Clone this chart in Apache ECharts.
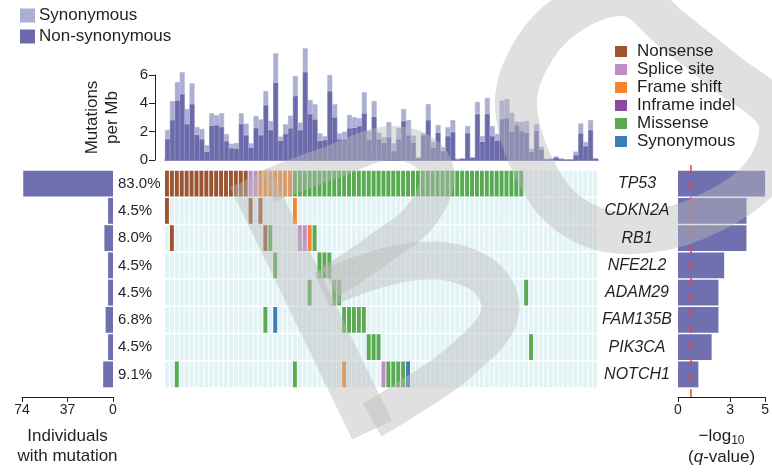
<!DOCTYPE html>
<html>
<head>
<meta charset="utf-8">
<script src="https://cdn.jsdelivr.net/npm/echarts@6/dist/echarts.min.js"></script>
<style>
  html, body { margin: 0; padding: 0; background: #ffffff; }
  #chart { width: 772px; height: 472px; }
</style>
</head>
<body>
<div id="chart"></div>
<script>
// Genes shown in the mutation matrix, top to bottom
const genes = ['TP53', 'CDKN2A', 'RB1', 'NFE2L2', 'ADAM29', 'FAM135B', 'PIK3CA', 'NOTCH1'];

// Mutation rate per sample (mutations per Mb)
const nonSynPerMb = [
  1.48, 2.82, 4.20, 4.66, 2.54, 3.95, 1.78, 1.48, 0.59, 2.43,
  2.47, 2.33, 1.34, 0.85, 0.80, 2.54, 1.76, 0.87, 2.27, 1.76,
  3.88, 2.12, 5.46, 1.36, 1.84, 2.24, 4.52, 2.12, 6.21, 3.25,
  2.87, 1.36, 1.41, 4.87, 3.01, 1.46, 1.46, 2.24, 2.28, 2.40,
  3.29, 1.46, 3.06, 1.48, 1.22, 1.62, 0.64, 1.48, 2.75, 1.76,
  1.22, 0.14, 1.76, 2.82, 0.87, 1.93, 0.64, 1.69, 1.98, 0.05,
  0.09, 1.91, 0.16, 3.25, 1.29, 3.25, 1.69, 1.36, 2.89, 2.96,
  2.00, 2.47, 2.05, 1.93, 0.59, 2.07, 0.75, 0.05, 0.07, 0.19,
  0.07, 0.02, 0.02, 0.35, 1.88, 0.99, 2.12, 0.09
];
const synPerMb = [
  0.64, 1.34, 1.30, 1.54, 1.06, 1.45, 0.55, 0.71, 0.45, 0.87,
  0.70, 0.97, 0.49, 0.30, 0.40, 0.76, 0.80, 0.30, 0.83, 1.11,
  0.99, 0.63, 2.07, 0.29, 0.68, 0.89, 1.41, 0.52, 1.67, 0.99,
  1.06, 0.52, 0.28, 1.13, 0.92, 0.42, 0.54, 0.94, 0.73, 0.54,
  1.49, 0.61, 1.10, 0.45, 0.38, 1.06, 0.54, 0.80, 0.85, 1.06,
  0.50, 0.05, 0.12, 1.13, 0.42, 0.54, 0.25, 0.62, 0.84, 0.02,
  0.03, 0.49, 0.03, 0.84, 0.40, 1.13, 0.71, 0.48, 1.30, 1.35,
  1.34, 0.24, 0.63, 0.82, 0.19, 0.47, 0.19, 0.02, 0.05, 0.05,
  0.02, 0.03, 0.03, 0.24, 0.71, 0.28, 0.70, 0.05
];

// One character per sample (blocks of ten):
// N nonsense, S splice site, F frame shift, I inframe indel, M missense, Y synonymous, . none
const mutationRows = {
  TP53:    ['NNNNNNNNNN', 'NNNNNNNSSF', 'FFFFFFMMMM', 'MMMMMMMMMM', 'MMMMMMMMMM', 'MMMMMMMMMM', 'MMMMMMMMMM', 'MMM.......', '........'].join(''),
  CDKN2A:  ['N.........', '.......N.N', '......F...', '..........', '..........', '..........', '..........', '..........', '........'].join(''),
  RB1:     ['.N........', '..........', 'NM.....SSF', 'M.........', '..........', '..........', '..........', '..........', '........'].join(''),
  NFE2L2:  ['..........', '..........', '..M.......', '.MMM......', '..........', '..........', '..........', '..........', '........'].join(''),
  ADAM29:  ['..........', '..........', '.........M', '....MM....', '..........', '..........', '..........', '...M......', '........'].join(''),
  FAM135B: ['..........', '..........', 'M.Y.......', '......MMMM', 'M.........', '..........', '..........', '..........', '........'].join(''),
  PIK3CA:  ['..........', '..........', '..........', '..........', '.MMM......', '..........', '..........', '....M.....', '........'].join(''),
  NOTCH1:  ['..M.......', '..........', '......M...', '......F...', '....SMMMMY', '..........', '..........', '..........', '........'].join('')
};

// Mutation classes and their legend labels
const mutationCodes = ['N', 'S', 'F', 'I', 'M', 'Y'];
const mutationNames = ['Nonsense', 'Splice site', 'Frame shift', 'Inframe indel', 'Missense', 'Synonymous'];

// Significance per gene, -log10(q-value), and the cut-off line
const qScores = [5.0, 3.93, 3.93, 2.65, 2.32, 2.32, 1.93, 1.17];
const qCutoff = 0.72;

// Axis ticks
const rateTicks = [0, 2, 4, 6];
const individualsTicks = [74, 37, 0];
const qTicks = [0, 3, 5];

// ---- styling ----
const FONT = '"Liberation Sans", Arial, Helvetica, sans-serif';
const INK = '#231f20';
const DARK_PURPLE = '#6b6aab';
const LIGHT_PURPLE = '#abafd4';
const SIDE_BAR = '#7070b1';
const CELL_BG = '#e2f3f6';
const WATERMARK = 'rgba(186,186,186,0.45)';
const TEXT_Z = 120;
const mutationColors = {
  N: '#9c5530', S: '#c08cc4', F: '#f5842c', I: '#8a4b9f', M: '#59aa51', Y: '#3b7db6'
};

const sampleCount = nonSynPerMb.length;
const sampleIds = nonSynPerMb.map((_, i) => 'S' + (i + 1));

// Individuals carrying a non-synonymous mutation in each gene
const mutatedCounts = genes.map(g =>
  mutationRows[g].split('').filter(c => c !== '.' && c !== 'Y').length);

function cellsOf(code) {
  const out = [];
  genes.forEach((g, gi) => {
    const row = mutationRows[g];
    for (let i = 0; i < row.length; i++) {
      if (row[i] === code) out.push([i, gi]);
    }
  });
  return out;
}

const allCells = [];
genes.forEach((g, gi) => { for (let i = 0; i < sampleCount; i++) allCells.push([i, gi]); });

function cellRenderer(fill) {
  return function (params, api) {
    const p = api.coord([api.value(0), api.value(1)]);
    const s = api.size([1, 1]);
    return {
      type: 'rect',
      shape: { x: p[0] - s[0] / 2, y: p[1] - s[1] / 2 + 0.75, width: s[0] - 1, height: s[1] - 1.5 },
      style: { fill: fill }
    };
  };
}

const MUT_PREFIX = 'mut:';

const grids = [
  { left: 165, top: 75, width: 433, height: 85 },     // mutation rate bars
  { left: 165, top: 170, width: 433, height: 218 },   // mutation matrix
  { left: 22, top: 170, width: 91, height: 218 },     // individuals with mutation
  { left: 678, top: 170, width: 90, height: 218 },    // -log10 q
  { left: 678, top: 162, width: 90, height: 235 }     // cut-off line
];

// Faint grey monogram laid over the figure: a leaning "B" and a loop on the right
function stroke(type, points, width, smooth) {
  return {
    type: type, silent: true, z: 100,
    shape: { points: points, smooth: smooth || 0 },
    style: { stroke: WATERMARK, lineWidth: width, fill: null, lineCap: 'butt', lineJoin: 'round' }
  };
}
const watermark = [
  stroke('polygon', [[516, 107], [535, 48], [578, 8], [630, -4], [670, 28], [725, 72], [778, 118],
    [765, 172], [712, 212], [648, 232], [590, 226], [545, 188]], 42, 0.35),
  stroke('polyline', [[250, 178], [372, 430]], 44),
  stroke('polyline', [[268, 186], [330, 163], [395, 143], [435, 165], [425, 210], [378, 250], [330, 282]], 34, 0.4),
  stroke('polyline', [[322, 290], [410, 262], [478, 272], [500, 312], [462, 360], [405, 400], [372, 420]], 38, 0.4)
];

const option = {
  animation: false,
  backgroundColor: '#ffffff',
  textStyle: { fontFamily: FONT, color: INK },
  grid: grids,
  graphic: watermark,
  legend: [
    {
      orient: 'vertical', left: 20, top: 7, padding: 0, z: TEXT_Z,
      itemWidth: 13, itemHeight: 12, itemGap: 4, icon: 'rect',
      textStyle: { fontSize: 17, color: INK, fontFamily: FONT },
      data: ['Synonymous', 'Non-synonymous'],
      selectedMode: false
    },
    {
      orient: 'vertical', left: 615, top: 43, padding: 0, z: TEXT_Z,
      itemWidth: 12, itemHeight: 11, itemGap: 1, icon: 'rect',
      textStyle: { fontSize: 17, color: INK, fontFamily: FONT, padding: [0, 0, 0, 5] },
      data: mutationNames.map(n => MUT_PREFIX + n),
      formatter: name => name.replace(MUT_PREFIX, ''),
      selectedMode: false
    }
  ],
  xAxis: [
    { gridIndex: 0, type: 'category', data: sampleIds,
      axisLine: { show: true, lineStyle: { color: DARK_PURPLE, width: 1.5 } },
      axisTick: { show: false }, axisLabel: { show: false } },
    { gridIndex: 1, type: 'category', data: sampleIds, show: false },
    { gridIndex: 2, type: 'value', min: 0, max: individualsTicks[0], interval: 37, inverse: true,
      position: 'bottom', offset: 9, z: TEXT_Z,
      axisLine: { show: true, lineStyle: { color: INK, width: 1 } },
      axisTick: { show: true, length: 5, lineStyle: { color: INK } },
      axisLabel: { fontSize: 14, color: INK, margin: 6, fontFamily: FONT },
      splitLine: { show: false },
      name: 'Individuals\nwith mutation', nameLocation: 'middle', nameGap: 29,
      nameTextStyle: { fontSize: 17, lineHeight: 20, color: INK, fontFamily: FONT } },
    { gridIndex: 3, type: 'value', min: 0, max: 5, position: 'bottom', offset: 9, z: TEXT_Z,
      axisLine: { show: true, lineStyle: { color: INK, width: 1 } },
      axisTick: { show: true, length: 5, customValues: qTicks, lineStyle: { color: INK } },
      axisLabel: { fontSize: 14, color: INK, margin: 6, customValues: qTicks, fontFamily: FONT },
      splitLine: { show: false },
      name: '{t|\u2212log}{s|10}\n{t|(}{i|q}{t|-value)}', nameLocation: 'middle', nameGap: 29,
      nameTextStyle: {
        color: INK, fontFamily: FONT,
        rich: {
          t: { fontSize: 17, lineHeight: 21, fontFamily: FONT, color: INK },
          s: { fontSize: 12, lineHeight: 21, padding: [9, 0, 0, 0], fontFamily: FONT, color: INK },
          i: { fontSize: 17, lineHeight: 21, fontStyle: 'italic', fontFamily: FONT, color: INK }
        }
      } },
    { gridIndex: 4, type: 'value', min: 0, max: 5, show: false }
  ],
  yAxis: [
    { gridIndex: 0, type: 'value', min: rateTicks[0], max: rateTicks[rateTicks.length - 1], interval: 2,
      position: 'left', offset: 10, z: TEXT_Z,
      axisLine: { show: true, lineStyle: { color: INK, width: 1 } },
      axisTick: { show: true, length: 6, lineStyle: { color: INK } },
      axisLabel: { fontSize: 15, color: INK, margin: 7, fontFamily: FONT },
      splitLine: { show: false },
      name: 'Mutations\nper Mb', nameLocation: 'middle', nameRotate: 90, nameGap: 33,
      nameTextStyle: { fontSize: 17, lineHeight: 20, color: INK, fontFamily: FONT } },
    { gridIndex: 1, type: 'category', data: genes, inverse: true, show: false },
    { gridIndex: 2, type: 'category', data: genes, inverse: true, position: 'right', z: TEXT_Z,
      axisLine: { show: false }, axisTick: { show: false },
      axisLabel: { fontSize: 15, color: INK, align: 'left', margin: 5, fontFamily: FONT,
        formatter: (v, idx) => (mutatedCounts[idx] / sampleCount * 100).toFixed(1) + '%' } },
    { gridIndex: 3, type: 'category', data: genes, inverse: true, position: 'left', z: TEXT_Z,
      axisLine: { show: false }, axisTick: { show: false },
      axisLabel: { fontSize: 16, color: INK, align: 'center', margin: 41, fontStyle: 'italic',
        fontFamily: FONT, padding: [5, 0, 0, 0] } },
    { gridIndex: 4, type: 'value', min: 0, max: 1, show: false }
  ],
  series: [
    { name: 'Non-synonymous', type: 'bar', stack: 'rate', xAxisIndex: 0, yAxisIndex: 0,
      data: nonSynPerMb, barWidth: '100%', clip: false,
      itemStyle: { color: DARK_PURPLE, borderColor: DARK_PURPLE, borderWidth: 0.6 } },
    { name: 'Synonymous', type: 'bar', stack: 'rate', xAxisIndex: 0, yAxisIndex: 0,
      data: synPerMb, barWidth: '100%', clip: false,
      itemStyle: { color: LIGHT_PURPLE, borderColor: LIGHT_PURPLE, borderWidth: 0.6 } },
    { name: 'matrix', type: 'custom', xAxisIndex: 1, yAxisIndex: 1, data: allCells,
      renderItem: cellRenderer(CELL_BG), silent: true, z: 1 },
    ...mutationCodes.map((code, k) => ({
      name: MUT_PREFIX + mutationNames[k], type: 'custom', xAxisIndex: 1, yAxisIndex: 1,
      data: cellsOf(code), renderItem: cellRenderer(mutationColors[code]),
      itemStyle: { color: mutationColors[code] }, z: 2
    })),
    { name: 'Individuals with mutation', type: 'bar', xAxisIndex: 2, yAxisIndex: 2,
      data: mutatedCounts, barCategoryGap: '5%', itemStyle: { color: SIDE_BAR } },
    { name: '-log10 q', type: 'bar', xAxisIndex: 3, yAxisIndex: 3,
      data: qScores, barCategoryGap: '5%', itemStyle: { color: SIDE_BAR } },
    { name: 'q cut-off', type: 'line', xAxisIndex: 4, yAxisIndex: 4,
      data: [[qCutoff, 0], [qCutoff, 1]], symbol: 'none', z: 5,
      lineStyle: { color: '#e5443f', width: 1.5, type: [8, 8] } }
  ]
};

const chart = echarts.init(document.getElementById('chart'));
chart.setOption(option);
</script>
</body>
</html>
